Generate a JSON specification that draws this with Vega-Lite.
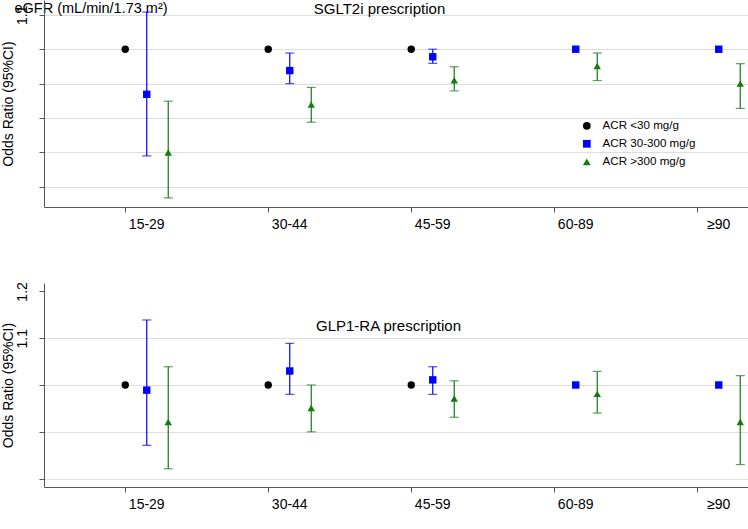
{
  "$schema": "https://vega.github.io/schema/vega-lite/v6.json",
  "autosize": {"type": "pad"},
  "padding": {"left": 0, "top": 0, "right": 0, "bottom": 0},
  "config": {
    "view": {"stroke": null},
    "font": "Liberation Sans",
    "axis": {"domainColor": "#555555", "tickColor": "#555555", "labelColor": "#000000", "titleColor": "#000000", "tickSize": 5, "labelFontSize": 14, "titleFontSize": 14, "titleFontWeight": "normal", "gridColor": "#dddddd", "gridWidth": 1.2}
  },
  "datasets": {
    "or": [
      {"panel": "SGLT2i", "egfr": "15-29", "acr": "ACR <30 mg/g", "or": 1.0, "lo": null, "hi": null},
      {"panel": "SGLT2i", "egfr": "15-29", "acr": "ACR 30-300 mg/g", "or": 0.869, "lo": 0.69, "hi": 1.108},
      {"panel": "SGLT2i", "egfr": "15-29", "acr": "ACR >300 mg/g", "or": 0.70, "lo": 0.568, "hi": 0.849},
      {"panel": "SGLT2i", "egfr": "30-44", "acr": "ACR <30 mg/g", "or": 1.0, "lo": null, "hi": null},
      {"panel": "SGLT2i", "egfr": "30-44", "acr": "ACR 30-300 mg/g", "or": 0.938, "lo": 0.90, "hi": 0.989},
      {"panel": "SGLT2i", "egfr": "30-44", "acr": "ACR >300 mg/g", "or": 0.839, "lo": 0.788, "hi": 0.889},
      {"panel": "SGLT2i", "egfr": "45-59", "acr": "ACR <30 mg/g", "or": 1.0, "lo": null, "hi": null},
      {"panel": "SGLT2i", "egfr": "45-59", "acr": "ACR 30-300 mg/g", "or": 0.978, "lo": 0.959, "hi": 1.0},
      {"panel": "SGLT2i", "egfr": "45-59", "acr": "ACR >300 mg/g", "or": 0.91, "lo": 0.879, "hi": 0.949},
      {"panel": "SGLT2i", "egfr": "60-89", "acr": "ACR 30-300 mg/g", "or": 1.0, "lo": null, "hi": null},
      {"panel": "SGLT2i", "egfr": "60-89", "acr": "ACR >300 mg/g", "or": 0.951, "lo": 0.909, "hi": 0.989},
      {"panel": "SGLT2i", "egfr": "≥90", "acr": "ACR 30-300 mg/g", "or": 1.0, "lo": null, "hi": null},
      {"panel": "SGLT2i", "egfr": "≥90", "acr": "ACR >300 mg/g", "or": 0.90, "lo": 0.828, "hi": 0.958},
      {"panel": "GLP1-RA", "egfr": "15-29", "acr": "ACR <30 mg/g", "or": 1.0, "lo": null, "hi": null},
      {"panel": "GLP1-RA", "egfr": "15-29", "acr": "ACR 30-300 mg/g", "or": 0.989, "lo": 0.871, "hi": 1.139},
      {"panel": "GLP1-RA", "egfr": "15-29", "acr": "ACR >300 mg/g", "or": 0.921, "lo": 0.821, "hi": 1.039},
      {"panel": "GLP1-RA", "egfr": "30-44", "acr": "ACR <30 mg/g", "or": 1.0, "lo": null, "hi": null},
      {"panel": "GLP1-RA", "egfr": "30-44", "acr": "ACR 30-300 mg/g", "or": 1.03, "lo": 0.98, "hi": 1.089},
      {"panel": "GLP1-RA", "egfr": "30-44", "acr": "ACR >300 mg/g", "or": 0.951, "lo": 0.90, "hi": 1.0},
      {"panel": "GLP1-RA", "egfr": "45-59", "acr": "ACR <30 mg/g", "or": 1.0, "lo": null, "hi": null},
      {"panel": "GLP1-RA", "egfr": "45-59", "acr": "ACR 30-300 mg/g", "or": 1.011, "lo": 0.98, "hi": 1.039},
      {"panel": "GLP1-RA", "egfr": "45-59", "acr": "ACR >300 mg/g", "or": 0.971, "lo": 0.931, "hi": 1.009},
      {"panel": "GLP1-RA", "egfr": "60-89", "acr": "ACR 30-300 mg/g", "or": 1.0, "lo": null, "hi": null},
      {"panel": "GLP1-RA", "egfr": "60-89", "acr": "ACR >300 mg/g", "or": 0.981, "lo": 0.94, "hi": 1.029},
      {"panel": "GLP1-RA", "egfr": "≥90", "acr": "ACR 30-300 mg/g", "or": 1.0, "lo": null, "hi": null},
      {"panel": "GLP1-RA", "egfr": "≥90", "acr": "ACR >300 mg/g", "or": 0.921, "lo": 0.83, "hi": 1.02}
    ]
  },
  "bounds": "flush",
  "spacing": 76,
  "resolve": {"legend": {"color": "independent", "shape": "independent"}},
  "vconcat": [
    {
      "width": 707,
      "height": 207,
      "data": {"name": "or"},
      "transform": [{"filter": "datum.panel == 'SGLT2i'"}],
      "title": {"text": "SGLT2i prescription", "offset": -17, "fontSize": 15, "fontWeight": "normal", "dx": -18, "color": "#000000"},
      "encoding": {
        "x": {"field": "egfr", "type": "nominal", "sort": ["15-29", "30-44", "45-59", "60-89", "≥90"],
          "scale": {"paddingInner": 0.549, "paddingOuter": 0.2465, "align": 1},
          "axis": {"title": "eGFR (mL/min/1.73 m²)", "titleX": -30, "titleY": -199, "titleAlign": "left", "titleBaseline": "middle", "titleFontSize": 14.5, "labelAngle": 0, "bandPosition": 0.1667, "labelPadding": 5}},
        "xOffset": {"field": "acr", "type": "nominal", "sort": ["ACR <30 mg/g", "ACR 30-300 mg/g", "ACR >300 mg/g"],
          "scale": {"domain": ["ACR <30 mg/g", "ACR 30-300 mg/g", "ACR >300 mg/g"], "paddingInner": 0, "paddingOuter": 0}},
        "color": {"field": "acr", "type": "nominal", "title": null,
          "scale": {"domain": ["ACR <30 mg/g", "ACR 30-300 mg/g", "ACR >300 mg/g"], "range": ["#000000", "#0000ff", "#137a13"]},
          "legend": {"orient": "none", "legendX": 537, "legendY": 120, "padding": 0, "labelFontSize": 11.6, "symbolSize": 60, "symbolOpacity": 1, "rowPadding": 5, "labelOffset": 10, "symbolStrokeWidth": 0, "labelColor": "#000000"}}
      },
      "layer": [
        {
          "transform": [{"filter": "isValid(datum.lo)"}],
          "mark": {"type": "rule", "strokeWidth": 1.2},
          "encoding": {
            "y": {"field": "lo", "type": "quantitative", "scale": {"domain": [0.5416, 1.143], "nice": false, "zero": false},
              "axis": {"title": "Odds Ratio (95%CI)", "values": [0.6, 0.7, 0.8, 0.9, 1.0, 1.1], "labelExpr": "datum.value > 1.05 ? datum.label : ''", "labelAngle": 270, "labelPadding": 10, "grid": true, "titlePadding": 0}},
            "y2": {"field": "hi"}
          }
        },
        {
          "transform": [{"filter": "isValid(datum.lo)"}],
          "mark": {"type": "tick", "orient": "horizontal", "size": 9, "thickness": 1.2},
          "encoding": {
            "y": {"field": "lo", "type": "quantitative"}
          }
        },
        {
          "transform": [{"filter": "isValid(datum.hi)"}],
          "mark": {"type": "tick", "orient": "horizontal", "size": 9, "thickness": 1.2},
          "encoding": {
            "y": {"field": "hi", "type": "quantitative"}
          }
        },
        {
          "mark": {"type": "point", "filled": true, "size": 55, "opacity": 1},
          "encoding": {
            "y": {"field": "or", "type": "quantitative"},
            "shape": {"field": "acr", "type": "nominal", "title": null,
              "scale": {"domain": ["ACR <30 mg/g", "ACR 30-300 mg/g", "ACR >300 mg/g"], "range": ["circle", "square", "triangle-up"]},
              "legend": {"orient": "none", "legendX": 537, "legendY": 120, "padding": 0, "labelFontSize": 11.6, "symbolSize": 60, "symbolOpacity": 1, "rowPadding": 5, "labelOffset": 10, "symbolStrokeWidth": 0, "labelColor": "#000000"}}
          }
        }
      ]
    },
    {
      "width": 707,
      "height": 204,
      "data": {"name": "or"},
      "transform": [{"filter": "datum.panel == 'GLP1-RA'"}],
      "title": {"text": "GLP1-RA prescription", "offset": -52, "fontSize": 15, "fontWeight": "normal", "dx": -9, "color": "#000000"},
      "encoding": {
        "x": {"field": "egfr", "type": "nominal", "sort": ["15-29", "30-44", "45-59", "60-89", "≥90"],
          "scale": {"paddingInner": 0.549, "paddingOuter": 0.2465, "align": 1},
          "axis": {"title": null, "labelAngle": 0, "bandPosition": 0.1667, "labelPadding": 5}},
        "xOffset": {"field": "acr", "type": "nominal", "sort": ["ACR <30 mg/g", "ACR 30-300 mg/g", "ACR >300 mg/g"],
          "scale": {"domain": ["ACR <30 mg/g", "ACR 30-300 mg/g", "ACR >300 mg/g"], "paddingInner": 0, "paddingOuter": 0}},
        "color": {"field": "acr", "type": "nominal",
          "scale": {"domain": ["ACR <30 mg/g", "ACR 30-300 mg/g", "ACR >300 mg/g"], "range": ["#000000", "#0000ff", "#137a13"]},
          "legend": null}
      },
      "layer": [
        {
          "transform": [{"filter": "isValid(datum.lo)"}],
          "mark": {"type": "rule", "strokeWidth": 1.2},
          "encoding": {
            "y": {"field": "lo", "type": "quantitative", "scale": {"domain": [0.782, 1.218], "nice": false, "zero": false},
              "axis": {"title": "Odds Ratio (95%CI)", "values": [0.8, 0.9, 1.0, 1.1, 1.2], "labelExpr": "datum.value > 1.05 ? datum.label : ''", "labelAngle": 270, "labelPadding": 10, "grid": true, "titlePadding": 0,
                "gridOpacity": {"condition": {"test": "datum.value > 1.15", "value": 0}, "value": 1}}},
            "y2": {"field": "hi"}
          }
        },
        {
          "transform": [{"filter": "isValid(datum.lo)"}],
          "mark": {"type": "tick", "orient": "horizontal", "size": 9, "thickness": 1.2},
          "encoding": {
            "y": {"field": "lo", "type": "quantitative"}
          }
        },
        {
          "transform": [{"filter": "isValid(datum.hi)"}],
          "mark": {"type": "tick", "orient": "horizontal", "size": 9, "thickness": 1.2},
          "encoding": {
            "y": {"field": "hi", "type": "quantitative"}
          }
        },
        {
          "mark": {"type": "point", "filled": true, "size": 55, "opacity": 1},
          "encoding": {
            "y": {"field": "or", "type": "quantitative"},
            "shape": {"field": "acr", "type": "nominal",
              "scale": {"domain": ["ACR <30 mg/g", "ACR 30-300 mg/g", "ACR >300 mg/g"], "range": ["circle", "square", "triangle-up"]},
              "legend": null}
          }
        }
      ]
    }
  ]
}
